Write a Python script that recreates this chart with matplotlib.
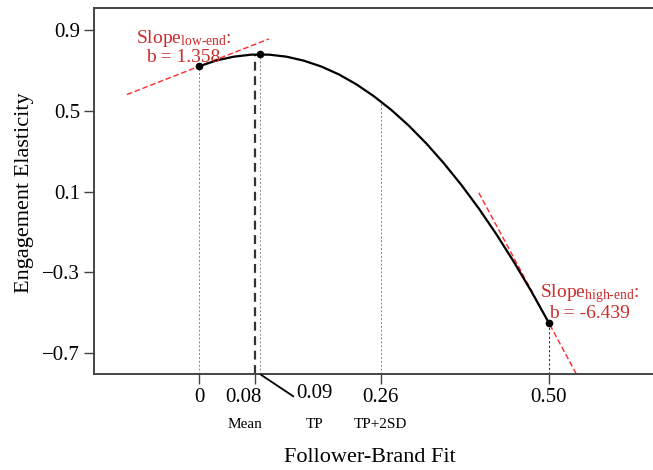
import matplotlib
matplotlib.use("Agg")
import matplotlib.pyplot as plt
import matplotlib.transforms as mtransforms
import numpy as np

# ---- data ----
fit_x = [0.0, 0.025, 0.05, 0.075, 0.1, 0.125, 0.15, 0.175, 0.2, 0.225, 0.25,
         0.275, 0.3, 0.325, 0.35, 0.375, 0.4, 0.425, 0.45, 0.475, 0.5]
elasticity_y = [0.720, 0.749, 0.768, 0.778, 0.778, 0.768, 0.748, 0.719, 0.680,
                0.631, 0.572, 0.504, 0.426, 0.338, 0.240, 0.133, 0.016,
                -0.111, -0.248, -0.394, -0.550]

low_point = (0.0, 0.720)
tp_point = (0.087, 0.779)
high_point = (0.5, -0.550)
mean_x = 0.08
mean_y = 0.776
tp2sd_x = 0.26
tp2sd_y = 0.546

slope_low = 1.358
slope_high = -6.439
low_tangent_x = [-0.103, 0.100]
high_tangent_x = [0.400, 0.540]

xtick_vals = [0.0, 0.08, 0.26, 0.50]
xtick_labels = ["0", "0.08", "0.26", "0.50"]
tp_label = "0.09"
ytick_vals = [0.9, 0.5, 0.1, -0.3, -0.7]
ytick_labels = ["0.9", "0.5", "0.1", "\u22120.3", "\u22120.7"]

# ---- style ----
plt.rcParams["font.family"] = ["Liberation Serif", "DejaVu Serif"]
plt.rcParams["mathtext.fontset"] = "custom"
plt.rcParams["mathtext.rm"] = "Liberation Serif"
plt.rcParams["mathtext.it"] = "Liberation Serif:italic"

red_txt = "#cc2b2b"
red_line = "#ff2a2a"
spine_c = "#444444"

fig = plt.figure(figsize=(6.53, 4.70), dpi=100)
ax = fig.add_axes([94 / 653, 96 / 470, 1 - 94 / 653, (374 - 8) / 470])

# vertical reference lines
ax.plot([low_point[0]] * 2, [-0.804, low_point[1]], ls=(0, (2, 2)), lw=0.7, color="#888888")
ax.plot([mean_x] * 2, [-0.804, mean_y], ls=(0, (4, 2.5)), lw=1.6, color="#333333")
ax.plot([tp_point[0]] * 2, [-0.804, tp_point[1]], ls=(0, (2, 2)), lw=0.7, color="#888888")
ax.plot([tp2sd_x] * 2, [-0.804, tp2sd_y], ls=(0, (2, 2)), lw=0.7, color="#888888")
ax.plot([high_point[0]] * 2, [-0.804, high_point[1]], ls=(0, (2, 2)), lw=0.8, color="#333333")

# tangent lines
lx = np.array(low_tangent_x)
ax.plot(lx, low_point[1] + slope_low * (lx - low_point[0]), ls=(0, (4, 2)), lw=1.0, color=red_line)
hx = np.array(high_tangent_x)
ax.plot(hx, high_point[1] + slope_high * (hx - high_point[0]), ls=(0, (4, 2)), lw=1.0, color=red_line)

# curve
ax.plot(fit_x, elasticity_y, color="black", lw=1.6)
ax.plot([low_point[0], tp_point[0], high_point[0]],
        [low_point[1], tp_point[1], high_point[1]], "o", color="black", ms=4.5)

# slope annotations
ax.text(-0.022, 0.816, "Slope$_{\\mathrm{low\u2010end}}$:\nb = %.3f" % slope_low,
        ha="center", va="center", color=red_txt, fontsize=14, linespacing=1.05)
ax.text(0.558, -0.447, "Slope$_{\\mathrm{high\u2010end}}$:\nb = %.3f" % slope_high,
        ha="center", va="center", color=red_txt, fontsize=14, linespacing=1.05)

ax.set_xlim(-0.150, 0.649)
ax.set_ylim(-0.804, 1.009)

ax.set_yticks(ytick_vals)
ax.set_yticklabels(ytick_labels, fontsize=15)
ax.set_xticks(xtick_vals)
ax.set_xticklabels(xtick_labels, fontsize=15)
ax.tick_params(axis="both", length=7, width=1.0, color=spine_c, pad=3)

# shift the 0.08 label a bit left
for lab in ax.get_xticklabels():
    if lab.get_text() == "0.08":
        lab.set_transform(lab.get_transform() + mtransforms.ScaledTranslation(-11 / 100, 0, fig.dpi_scale_trans))

trans = mtransforms.blended_transform_factory(ax.transData, fig.transFigure)
sub_y = 1 - 424 / 470
ax.text(0.066, sub_y, "Mean", transform=trans, ha="center", va="center", fontsize=11)
ax.text(0.26, sub_y, "TP+2SD", transform=trans, ha="center", va="center", fontsize=11)
ax.text(0.165, sub_y, "TP", transform=trans, ha="center", va="center", fontsize=11)

# 0.09 label with leader line
ax.annotate(tp_label, xy=(tp_point[0], 0), xycoords=ax.get_xaxis_transform(),
            xytext=(0.165, 1 - 393 / 470), textcoords=trans,
            ha="center", va="center", fontsize=15,
            arrowprops=dict(arrowstyle="-", color="black", lw=1.3,
                            shrinkA=0, shrinkB=1, relpos=(-0.02, 0.25),
                            connectionstyle="arc3"), annotation_clip=False)

for s in ["left", "bottom", "top"]:
    ax.spines[s].set_color(spine_c)
    ax.spines[s].set_linewidth(1.4)
ax.spines["right"].set_visible(False)

fig.text(370 / 653, 1 - 457 / 470, "Follower-Brand Fit", fontsize=16, ha="center", va="center")
fig.text(25 / 653, 1 - 193 / 470, "Engagement Elasticity", fontsize=16, ha="center", va="center",
         rotation=90)

fig.savefig("out.png", dpi=100)
